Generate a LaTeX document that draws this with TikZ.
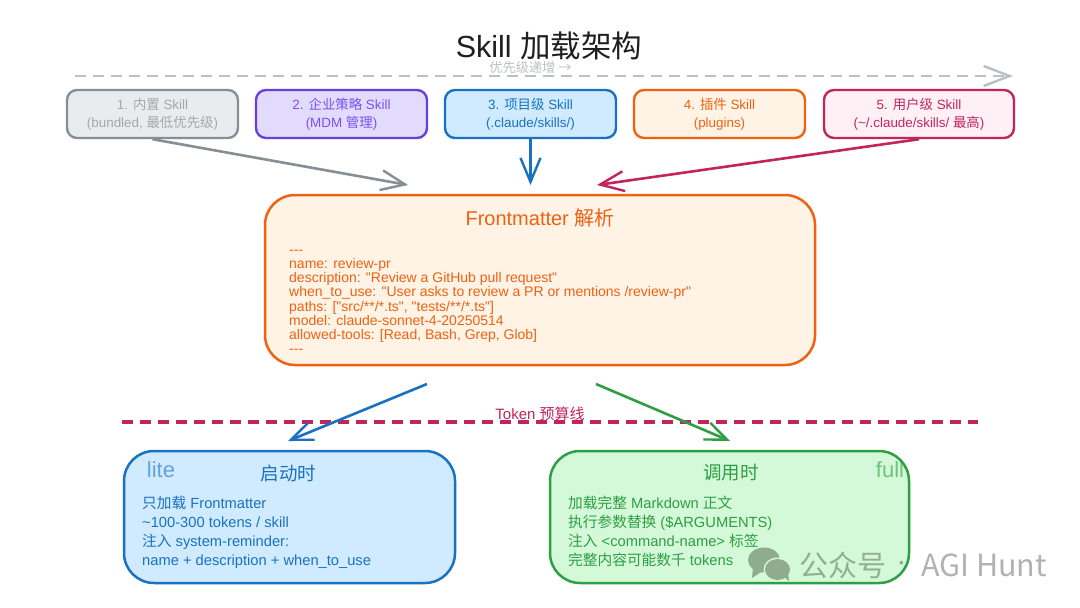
\documentclass[tikz,border=0pt]{standalone}
\usepackage{fontspec}
\usetikzlibrary{arrows.meta}
\newfontfamily\lat{Liberation Sans}
\newfontfamily\cjk{Noto Sans CJK SC}
\newcommand\zh[1]{{\cjk #1}}
\definecolor{cgray}{HTML}{868E96}
\definecolor{fgray}{HTML}{E9ECEF}
\definecolor{tgray}{HTML}{A3A8AD}
\definecolor{lgray}{HTML}{BCC0C4}
\definecolor{cpurple}{HTML}{6741D9}
\definecolor{fpurple}{HTML}{E3DBFD}
\definecolor{tpurple}{HTML}{7950F2}
\definecolor{cblue}{HTML}{1971C2}
\definecolor{fblue}{HTML}{D0EBFF}
\definecolor{corange}{HTML}{EE6212}
\definecolor{forange}{HTML}{FFF3E6}
\definecolor{cpink}{HTML}{C2255C}
\definecolor{fpink}{HTML}{FFF0F6}
\definecolor{cgreen}{HTML}{2F9E44}
\definecolor{fgreen}{HTML}{D3F9D8}
\definecolor{wechat}{HTML}{8FAC8F}
\tikzset{
  x=1pt,y=-1pt,
  base/.style={font=\lat\fontsize{13.4}{18}\selectfont,align=center,inner sep=0pt},
  skillbox/.style={base,draw=#1,line width=2.4pt,rounded corners=10pt,minimum height=48pt,execute at begin node={\vspace*{2pt}}},
  bigbox/.style={draw=#1,line width=2.5pt,rounded corners=30pt,inner sep=0pt},
  bodytext/.style={font=\lat\fontsize{14.7}{19}\selectfont,align=left,inner sep=0pt,anchor=north west},
  fmtext/.style={font=\lat\fontsize{14}{14.15}\selectfont,align=left,inner sep=0pt,anchor=north west},
  conn/.style={line width=2.6pt,-{Straight Barb[length=24pt,width=20pt,line width=2.4pt]}},
  conn2/.style={line width=2.6pt,-{Straight Barb[length=22pt,width=18pt,line width=2.4pt]}},
  wm/.style={inner sep=0pt,text=black,text opacity=.3},
}
\begin{document}
\begin{tikzpicture}
\fill[white] (0,0) rectangle (1080,608);
\useasboundingbox (0,0) rectangle (1080,608);
% title
\node[inner sep=0pt,text=black!88,font=\lat\fontsize{30.5}{38}\selectfont] (title) at (549,46) {Skill \zh{加载架构}};
% priority line
\coordinate (pstart) at (75,76);
\coordinate (pend) at (1013,76);
\draw[lgray,line width=2.4pt,dash pattern=on 11pt off 7pt,-{Straight Barb[length=26pt,width=20pt,line width=2.4pt]}] (pstart) -- (pend);
\node[inner sep=0pt,text=lgray,font=\cjk\fontsize{13.2}{15}\selectfont] (plabel) at (530.5,67) {优先级递增 →};
% source boxes
\node[skillbox=cgray,fill=fgray,text=tgray,minimum width=171pt] (s1) at (152.5,114) {1. \zh{内置} Skill\\(bundled, \zh{最低优先级})};
\node[skillbox=cpurple,fill=fpurple,text=tpurple,minimum width=171pt] (s2) at (341.5,114) {2. \zh{企业策略} Skill\\(MDM \zh{管理})};
\node[skillbox=cblue,fill=fblue,text=cblue,minimum width=171pt] (s3) at (530.5,114) {3. \zh{项目级} Skill\\(.claude/skills/)};
\node[skillbox=corange,fill=forange,text=corange,minimum width=171pt] (s4) at (719.5,114) {4. \zh{插件} Skill\\(plugins)};
\node[skillbox=cpink,fill=fpink,text=cpink,minimum width=190pt] (s5) at (919,114) {5. \zh{用户级} Skill\\(\textasciitilde/.claude/skills/ \zh{最高})};
% frontmatter
\node[bigbox=corange,fill=forange,minimum width=550pt,minimum height=170pt] (fm) at (540,280) {};
\node[inner sep=0pt,text=corange,font=\lat\fontsize{20}{24}\selectfont] (fmt) at (540,217.5) {Frontmatter \zh{解析}};
\node[fmtext,text=corange] (fmb) at (289,250) {---\\name: review-pr\\description: "Review a GitHub pull request"\\when\_to\_use: "User asks to review a PR or mentions /review-pr"\\paths: ["src/**/*.ts", "tests/**/*.ts"]\\model: claude-sonnet-4-20250514\\allowed-tools: [Read, Bash, Grep, Glob]\\---};
% arrows into frontmatter
\coordinate (a1) at (408,185);
\coordinate (a3) at (530.5,185);
\coordinate (a5) at (597,185);
\draw[conn,cgray] (s1.south) -- (a1);
\draw[conn,cblue] (s3.south) -- (a3);
\draw[conn,cpink] (s5.south) -- (a5);
% token line
\coordinate (tstart) at (122,422);
\coordinate (tend) at (978,422);
\draw[cpink,line width=3.2pt,dash pattern=on 11pt off 7pt] (tstart) -- (tend);
\node[inner sep=0pt,text=cpink,font=\lat\fontsize{15}{18}\selectfont] (tlabel) at (540,414) {Token \zh{预算线}};
% lower boxes
\node[bigbox=cblue,fill=fblue,minimum width=331pt,minimum height=132pt] (lite) at (289.5,517) {};
\node[bigbox=cgreen,fill=fgreen,minimum width=359pt,minimum height=132pt] (full) at (729.5,517) {};
\node[inner sep=0pt,text=cblue,font=\cjk\fontsize{18.5}{22}\selectfont] (litet) at (288.5,473) {启动时};
\node[inner sep=0pt,text=cgreen,font=\cjk\fontsize{18.5}{22}\selectfont] (fullt) at (731,473) {调用时};
\node[inner sep=0pt,text=cblue,text opacity=.6,font=\lat\fontsize{22}{24}\selectfont] (litel) at (161,470) {lite};
\node[inner sep=0pt,text=cgreen,text opacity=.6,font=\lat\fontsize{22}{24}\selectfont] (fulll) at (890,470) {full};
\node[bodytext,text=cblue] (liteb) at (142,496) {\zh{只加载} Frontmatter\\\textasciitilde 100-300 tokens / skill\\\zh{注入} system-reminder:\\name + description + when\_to\_use};
\node[bodytext,text=cgreen] (fullb) at (568,496) {\zh{加载完整} Markdown \zh{正文}\\\zh{执行参数替换} (\$ARGUMENTS)\\\zh{注入} <command-name> \zh{标签}\\\zh{完整内容可能数千} tokens};
% arrows out of frontmatter
\coordinate (b1) at (427,384);
\coordinate (b2) at (288,441);
\coordinate (c1) at (596,384);
\coordinate (c2) at (730,441);
\draw[conn2,cblue] (b1) -- (b2);
\draw[conn2,cgreen] (c1) -- (c2);
% watermark
\fill[wechat] (764,560) ellipse (16pt and 12.5pt);
\fill[wechat] (753,568) -- (752,578) -- (761,572) -- cycle;
\fill[fgreen] (777.5,569.5) ellipse (14pt and 12pt);
\fill[wechat] (777.5,569.5) ellipse (12.5pt and 10.5pt);
\fill[wechat] (783,576) -- (789,581) -- (788,573) -- cycle;
\node[wm,font=\cjk\fontsize{29}{32}\selectfont] (wm1) at (843,565) {公众号};
\node[wm,font=\lat\bfseries\fontsize{22}{24}\selectfont] (wmd) at (902,566) {·};
\node[wm,font=\cjk\fontsize{30.5}{34}\selectfont] (wm2) at (984,565) {AGI Hunt};
\end{tikzpicture}
\end{document}
